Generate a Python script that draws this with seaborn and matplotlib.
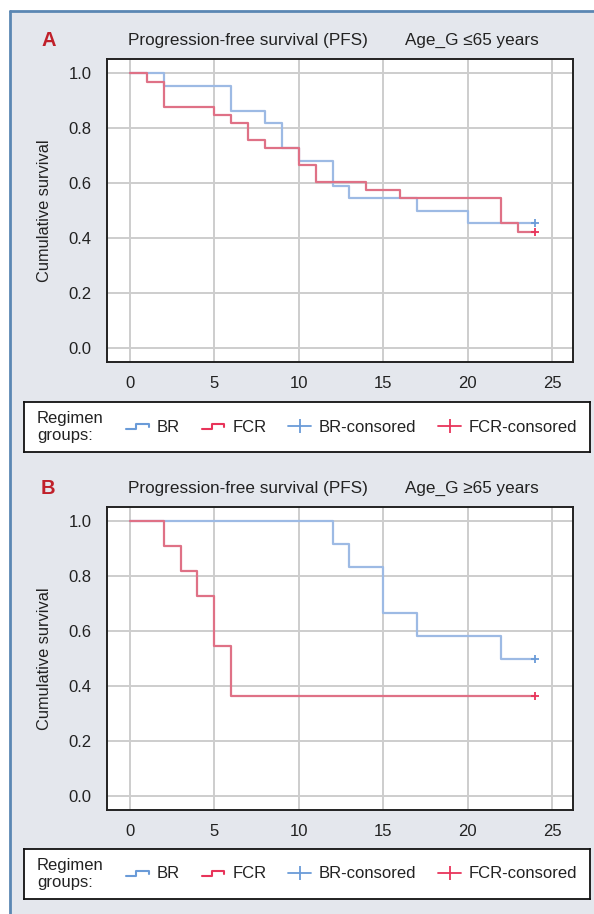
import numpy as np
import pandas as pd
import seaborn as sns
import matplotlib
matplotlib.use("Agg")
import matplotlib.pyplot as plt
from matplotlib.lines import Line2D
from matplotlib.patches import Rectangle
from matplotlib.legend_handler import HandlerBase

# ---------------- data ----------------
a_br_time = [0, 2, 6, 8, 9, 10, 12, 13, 17, 20, 24]
a_br_surv = [1.0, 0.955, 0.864, 0.818, 0.727, 0.682, 0.591, 0.545, 0.500, 0.455, 0.455]
a_fcr_time = [0, 1, 2, 5, 6, 7, 8, 10, 11, 14, 16, 22, 23, 24]
a_fcr_surv = [1.0, 0.970, 0.879, 0.848, 0.818, 0.758, 0.727, 0.667, 0.606, 0.576, 0.545, 0.455, 0.424, 0.424]
a_br_cens_time = [24]
a_br_cens_surv = [0.455]
a_fcr_cens_time = [24]
a_fcr_cens_surv = [0.424]

b_br_time = [0, 12, 13, 15, 17, 22, 24]
b_br_surv = [1.0, 0.917, 0.833, 0.667, 0.583, 0.500, 0.500]
b_fcr_time = [0, 2, 3, 4, 5, 6, 24]
b_fcr_surv = [1.0, 0.909, 0.818, 0.727, 0.545, 0.364, 0.364]
b_br_cens_time = [24]
b_br_cens_surv = [0.500]
b_fcr_cens_time = [24]
b_fcr_cens_surv = [0.364]

x_ticks = [0, 5, 10, 15, 20, 25]
y_ticks = [0.0, 0.2, 0.4, 0.6, 0.8, 1.0]
y_tick_labels = ["0.0", "0.2", "0.4", "0.6", "0.8", "1.0"]
panel_letters = ["A", "B"]
panel_titles = ["Progression-free survival (PFS)", "Progression-free survival (PFS)"]
panel_ages = ["Age_G \u226465 years", "Age_G \u226565 years"]
legend_labels = ["BR", "FCR", "BR-consored", "FCR-consored"]
legend_title = "Regimen\ngroups:"

# ---------------- style ----------------
sns.set_theme(style="whitegrid")
plt.rcParams["font.family"] = ["Liberation Sans", "DejaVu Sans"]

W, H = 594, 914
fig = plt.figure(figsize=(W / 100, H / 100), dpi=100, facecolor="white")

BG = "#e4e7ed"
BORDER = "#5b87b3"
C_BR_LINE = "#9dbae4"
C_FCR_LINE = "#df7186"
C_BR = "#6a9bd8"
C_FCR = "#e8345a"

def fx(px):
    return px / W

def fy(py):
    return 1 - py / H

# panel background & border
fig.patches.append(Rectangle((fx(9.5), 0), 1 - fx(9.5), fy(10.5), transform=fig.transFigure,
                             facecolor=BG, edgecolor="none", zorder=-10))
fig.lines.append(Line2D([fx(9.5), fx(9.5)], [0, fy(10.5)], transform=fig.transFigure,
                        color=BORDER, lw=2))
fig.lines.append(Line2D([fx(9.5), 1], [fy(10.5), fy(10.5)], transform=fig.transFigure,
                        color=BORDER, lw=2))


class StepHandler(HandlerBase):
    def create_artists(self, legend, orig_handle, xdescent, ydescent, width, height, fontsize, trans):
        x0 = -xdescent
        y0 = -ydescent
        xs = [x0, x0 + 0.45 * width, x0 + 0.45 * width, x0 + width, x0 + width]
        ys = [y0 + 0.25 * height, y0 + 0.25 * height, y0 + 0.62 * height,
              y0 + 0.62 * height, y0 + 0.38 * height]
        ln = Line2D(xs, ys, color=orig_handle.get_color(), lw=1.5, transform=trans)
        return [ln]


panels = [
    dict(top=59, bottom=362, leg_top=402, leg_bot=452,
         br=(a_br_time, a_br_surv), fcr=(a_fcr_time, a_fcr_surv),
         brc=(a_br_cens_time, a_br_cens_surv), fcrc=(a_fcr_cens_time, a_fcr_cens_surv)),
    dict(top=507, bottom=810, leg_top=849, leg_bot=899,
         br=(b_br_time, b_br_surv), fcr=(b_fcr_time, b_fcr_surv),
         brc=(b_br_cens_time, b_br_cens_surv), fcrc=(b_fcr_cens_time, b_fcr_cens_surv)),
]

L, R = 107, 573
for i, p in enumerate(panels):
    ax = fig.add_axes([fx(L), fy(p["bottom"]), fx(R - L), (p["bottom"] - p["top"]) / H])
    ax.set_facecolor("white")
    br_df = pd.DataFrame({"t": p["br"][0], "s": p["br"][1]})
    fcr_df = pd.DataFrame({"t": p["fcr"][0], "s": p["fcr"][1]})
    sns.lineplot(data=br_df, x="t", y="s", ax=ax, color=C_BR_LINE, lw=1.6,
                 drawstyle="steps-post", estimator=None, zorder=3)
    sns.lineplot(data=fcr_df, x="t", y="s", ax=ax, color=C_FCR_LINE, lw=1.6,
                 drawstyle="steps-post", estimator=None, zorder=4)
    sns.scatterplot(x=p["brc"][0], y=p["brc"][1], ax=ax, marker="+", s=36,
                    color=C_BR, linewidth=1.3, zorder=5)
    sns.scatterplot(x=p["fcrc"][0], y=p["fcrc"][1], ax=ax, marker="+", s=36,
                    color=C_FCR, linewidth=1.3, zorder=6)
    ax.set_xlim(-1.36, 26.24)
    ax.set_ylim(-0.05, 1.052)
    ax.set_xticks(x_ticks)
    ax.set_yticks(y_ticks)
    ax.set_yticklabels(y_tick_labels)
    ax.tick_params(axis="both", length=0, labelsize=12, colors="#222222")
    ax.tick_params(axis="x", pad=10)
    ax.tick_params(axis="y", pad=11)
    ax.grid(True, color="#cdcdcd", lw=1.4)
    ax.set_xlabel("")
    ax.set_ylabel("Cumulative survival", fontsize=11.8, color="#222222", labelpad=12)
    for sp in ax.spines.values():
        sp.set_color("#222222")
        sp.set_linewidth(1.4)

    ty = fy(p["top"] - 19)
    fig.text(fx(41), ty, panel_letters[i], color="#c0202a", fontsize=14.5, fontweight="bold",
             va="center", ha="left")
    fig.text(fx(128), ty, panel_titles[i], color="#222222", fontsize=12.3, va="center", ha="left")
    fig.text(fx(405), ty, panel_ages[i], color="#222222", fontsize=12.3, va="center", ha="left")

    # legend box
    lx0, lx1 = 24, 590
    lax = fig.add_axes([fx(lx0), fy(p["leg_bot"]), fx(lx1 - lx0), (p["leg_bot"] - p["leg_top"]) / H])
    lax.set_facecolor("white")
    lax.set_xticks([])
    lax.set_yticks([])
    lax.grid(False)
    for sp in lax.spines.values():
        sp.set_color("#111111")
        sp.set_linewidth(1.3)
    lax.text((37 - lx0) / (lx1 - lx0), 0.5, legend_title, transform=lax.transAxes,
             fontsize=12, va="center", ha="left", color="#222222", linespacing=1.12)
    handles = [
        Line2D([], [], color=C_BR),
        Line2D([], [], color=C_FCR),
        Line2D([], [], color=C_BR, lw=1.3, marker="|", markersize=10, markeredgewidth=1.3),
        Line2D([], [], color=C_FCR, lw=1.3, marker="|", markersize=10, markeredgewidth=1.3),
    ]
    hmap = {handles[0]: StepHandler(), handles[1]: StepHandler()}
    lax.legend(handles, legend_labels, handler_map=hmap, ncol=4, frameon=False,
               loc="center left", bbox_to_anchor=((126 - lx0) / (lx1 - lx0), 0.5),
               borderpad=0, borderaxespad=0, fontsize=12, handlelength=1.35,
               handletextpad=0.5, columnspacing=1.3, labelcolor="#222222")

fig.savefig("out.png", dpi=100, facecolor="white")
